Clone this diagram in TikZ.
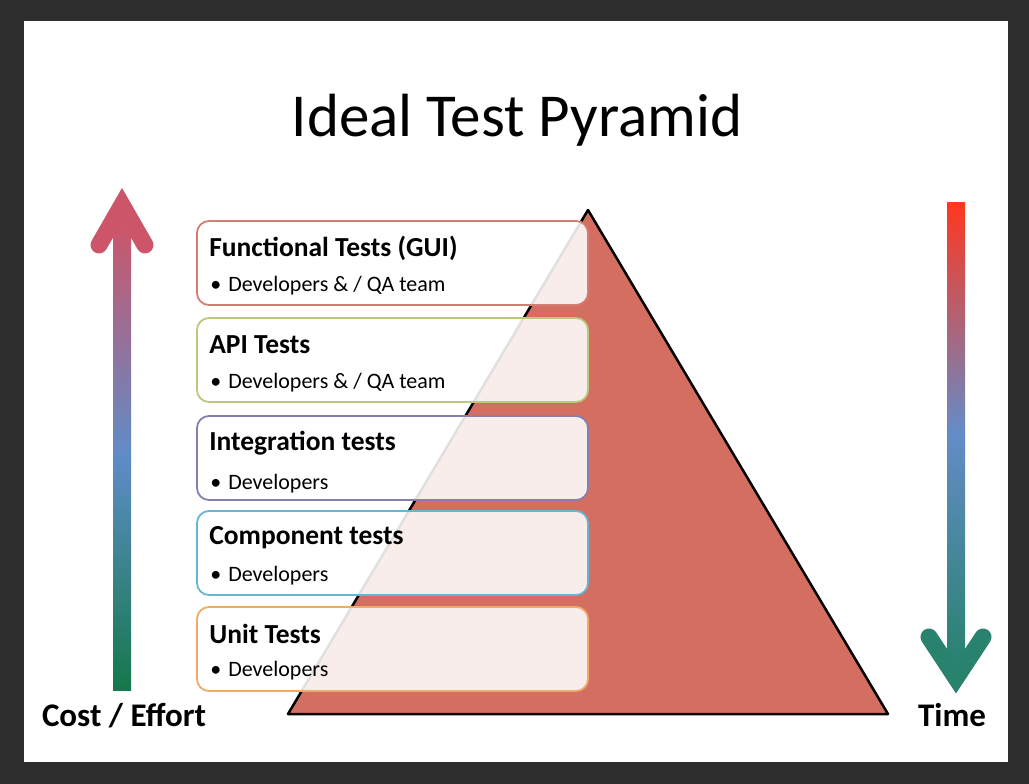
\documentclass[tikz,border=0pt]{standalone}
\usepackage{fontspec}
\setmainfont{Carlito}
\usetikzlibrary{positioning}
\definecolor{frame}{RGB}{45,45,45}
\definecolor{pyramid}{RGB}{212,110,96}
\definecolor{guiline}{RGB}{212,125,115}
\definecolor{apiline}{RGB}{185,200,125}
\definecolor{intline}{RGB}{135,125,175}
\definecolor{compline}{RGB}{105,180,210}
\definecolor{unitline}{RGB}{240,170,105}
\definecolor{costtop}{RGB}{205,85,105}
\definecolor{costmid}{RGB}{95,140,200}
\definecolor{costbot}{RGB}{20,120,75}
\definecolor{timetop}{RGB}{255,55,30}
\definecolor{timemid}{RGB}{100,140,200}
\definecolor{timebot}{RGB}{40,130,110}

\begin{document}
\begin{tikzpicture}[x=1pt, y=-1pt,
  layer/.style={draw=#1, line width=1.8pt, rounded corners=12pt, fill=white,
    fill opacity=0.88, text opacity=1, minimum width=391pt, minimum height=84pt, inner sep=0pt},
  heading/.style={font=\bfseries\fontsize{27.5}{32}\selectfont, anchor=west, inner sep=0pt},
  who/.style={font=\fontsize{22}{26}\selectfont, anchor=west, inner sep=0pt},
  axislabel/.style={font=\bfseries\fontsize{33}{38}\selectfont}]
% slide
\fill[frame] (0,0) rectangle (1029,784);
\fill[white] (24,21) rectangle (1008,762);
\node[font=\fontsize{61}{72}\selectfont] (title) at (517,120) {Ideal Test Pyramid};

% pyramid
\coordinate (apex) at (588,210);
\coordinate (baseL) at (288,714);
\coordinate (baseR) at (888,714);
\draw[line width=2.5pt, line join=round, fill=pyramid] (apex) -- (baseR) -- (baseL) -- cycle;

% layers
\node[layer=guiline] (gui) at (392.5,263) {};
\node[layer=apiline] (api) at (392.5,360) {};
\node[layer=intline] (integ) at (392.5,458) {};
\node[layer=compline] (comp) at (392.5,553) {};
\node[layer=unitline] (unit) at (392.5,649) {};

\node[heading] (guit) at ([xshift=13pt,yshift=-28pt]gui.north west) {Functional Tests (GUI)};
\node[who] (guiw) at ([xshift=14pt,yshift=-66pt]gui.north west) {\textbullet\hspace{7pt}Developers \& / QA team};
\node[heading] (apit) at ([xshift=13pt,yshift=-28pt]api.north west) {API Tests};
\node[who] (apiw) at ([xshift=14pt,yshift=-66pt]api.north west) {\textbullet\hspace{7pt}Developers \& / QA team};
\node[heading] (integt) at ([xshift=13pt,yshift=-28pt]integ.north west) {Integration tests};
\node[who] (integw) at ([xshift=14pt,yshift=-69pt]integ.north west) {\textbullet\hspace{7pt}Developers};
\node[heading] (compt) at ([xshift=13pt,yshift=-28pt]comp.north west) {Component tests};
\node[who] (compw) at ([xshift=14pt,yshift=-66pt]comp.north west) {\textbullet\hspace{7pt}Developers};
\node[heading] (unitt) at ([xshift=13pt,yshift=-28pt]unit.north west) {Unit Tests};
\node[who] (unitw) at ([xshift=14pt,yshift=-65pt]unit.north west) {\textbullet\hspace{7pt}Developers};

% cost arrow
\shade[top color=costtop, bottom color=costbot, middle color=costmid] (113,222) rectangle (131,690);
\draw[costtop, line width=17pt, line cap=round, line join=miter] (99,245) -- (122,205) -- (145,245);
\node[axislabel] (cost) at (124,716) {Cost / Effort};

% time arrow
\shade[top color=timetop, bottom color=timebot, middle color=timemid] (947,202) rectangle (965,665);
\draw[timebot, line width=17pt, line cap=round, line join=miter] (929,637) -- (956,678) -- (983,637);
\node[axislabel] (time) at (952,715) {Time};
\end{tikzpicture}
\end{document}
